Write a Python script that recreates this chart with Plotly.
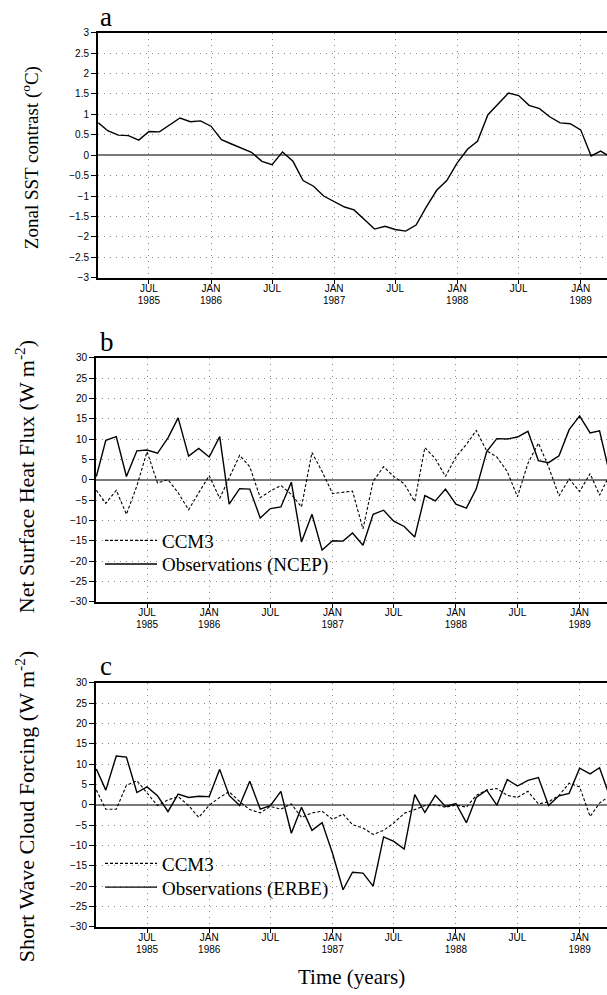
import pandas as pd
import plotly.graph_objects as go

# ---------------- data ----------------
months = pd.date_range("1985-02-01", periods=51, freq="MS")

sst_contrast = [0.79, 0.60, 0.49, 0.48, 0.37, 0.58, 0.57, 0.74, 0.91, 0.82, 0.84, 0.71,
                0.38, 0.28, 0.18, 0.07, -0.15, -0.23, 0.08, -0.15, -0.62, -0.76, -1.00, -1.14,
                -1.27, -1.34, -1.57, -1.81, -1.74, -1.82, -1.86, -1.71, -1.27, -0.86, -0.62, -0.19,
                0.15, 0.34, 0.99, 1.26, 1.52, 1.46, 1.22, 1.14, 0.94, 0.79, 0.77, 0.62,
                -0.02, 0.10, -0.05]

heat_ncep = [0.8, 9.7, 10.6, 0.8, 7.1, 7.3, 6.5, 10.3, 15.2, 5.8, 7.7, 5.6, 10.6,
             -6.0, -2.2, -2.3, -9.4, -7.1, -6.7, -0.6, -15.3, -8.5, -17.3, -15.0, -15.1,
             -13.1, -16.1, -8.5, -7.5, -10.2, -11.5, -14.1, -3.9, -5.2, -2.3, -6.0, -7.0, -2.3,
             6.9, 10.1, 10.0, 10.5, 11.9, 4.7, 4.2, 5.9, 12.3, 15.7, 11.5, 12.0, 1.0]

heat_ccm3 = [-2.6, -5.8, -2.6, -8.5, -1.5, 6.9, -0.8, 0.0, -3.2, -7.4, -3.2, 1.0, -4.6,
             0.4, 6.0, 3.2, -4.4, -2.8, -1.4, -3.6, -6.7, 6.7, 2.0, -3.4, -3.1,
             -2.8, -12.1, -0.4, 3.2, 0.8, -1.0, -5.4, 7.9, 5.2, 0.8, 5.6, 8.7, 12.1,
             7.1, 5.6, 2.0, -4.2, 4.0, 9.0, 3.2, -4.0, 0.2, -2.9, 1.5, -3.8, 1.4]

swcf_erbe = [8.8, 3.6, 12.0, 11.7, 3.0, 4.4, 2.2, -1.7, 2.6, 1.8, 2.1, 2.0, 8.7,
             2.3, -0.2, 5.8, -1.1, -0.2, 3.3, -7.0, -0.6, -6.3, -4.4, -12.0, -20.9,
             -16.6, -16.8, -20.0, -7.9, -9.0, -10.9, 2.5, -1.9, 2.3, -0.4, 0.3, -4.4, 1.8,
             3.6, -0.1, 6.2, 4.6, 6.0, 6.7, -0.2, 2.2, 2.8, 9.0, 7.6, 9.1, 1.8]

swcf_ccm3 = [3.6, -1.1, -1.1, 4.8, 5.9, 3.0, -0.2, 1.2, 2.0, -0.2, -3.1, -0.1, 1.8,
             3.2, 0.8, -1.2, -2.0, -0.4, -1.1, 0.2, -3.1, -2.0, -1.6, -3.6, -2.3,
             -4.9, -5.7, -7.3, -6.3, -4.5, -2.1, -1.2, -0.2, 0.0, -0.6, -0.1, -0.6, 2.3,
             3.6, 4.0, 2.3, 1.8, 3.3, 0.2, 0.7, 2.3, 5.3, 4.4, -2.9, 0.4, 2.3]

tick_dates = ["1985-07-01", "1986-01-01", "1986-07-01", "1987-01-01",
              "1987-07-01", "1988-01-01", "1988-07-01", "1989-01-01"]
tick_months = ["JUL", "JAN", "JUL", "JAN", "JUL", "JAN", "JUL", "JAN"]
tick_years = ["1985", "1986", "", "1987", "", "1988", "", "1989"]

sst_ticks = [3, 2.5, 2, 1.5, 1, 0.5, 0, -0.5, -1, -1.5, -2, -2.5, -3]
flux_ticks = [30, 25, 20, 15, 10, 5, 0, -5, -10, -15, -20, -25, -30]

# ---------------- figure ----------------
W, H = 607, 995
SERIF = "Liberation Serif, Times New Roman, serif"
SANS = "Liberation Sans, Arial, sans-serif"

fig = go.Figure()

solid = dict(color="black", width=1.4)
dotted = dict(color="black", width=1.1, dash="3px,2px")

fig.add_trace(go.Scatter(x=months, y=sst_contrast, mode="lines", line=solid,
                         xaxis="x", yaxis="y", showlegend=False))

fig.add_trace(go.Scatter(x=months, y=heat_ccm3, mode="lines", line=dotted, name="CCM3",
                         xaxis="x2", yaxis="y2", legend="legend"))
fig.add_trace(go.Scatter(x=months, y=heat_ncep, mode="lines", line=solid,
                         name="Observations (NCEP)", xaxis="x2", yaxis="y2", legend="legend2"))

fig.add_trace(go.Scatter(x=months, y=swcf_ccm3, mode="lines", line=dotted, name="CCM3",
                         xaxis="x3", yaxis="y3", legend="legend3"))
fig.add_trace(go.Scatter(x=months, y=swcf_erbe, mode="lines", line=solid,
                         name="Observations (ERBE)", xaxis="x3", yaxis="y3", legend="legend4"))

# empty traces so that the overlaid "year" label axes get created
for xa, ya in [("x4", "y"), ("x5", "y2"), ("x6", "y3")]:
    fig.add_trace(go.Scatter(x=[], y=[], mode="lines", xaxis=xa, yaxis=ya,
                             showlegend=False, hoverinfo="skip"))


def xax(anchor, x0, rng):
    return dict(domain=[x0 / W, 1.0], anchor=anchor, type="date", range=rng,
                tickmode="array", tickvals=tick_dates, ticktext=tick_months,
                showgrid=True, gridcolor="#8a8a8a", griddash="1px,5px", gridwidth=1,
                zeroline=False, showline=True, linecolor="black", linewidth=2,
                mirror=True, ticks="outside", ticklen=4, tickwidth=1, tickcolor="black",
                ticklabelstandoff=-4,
                tickfont=dict(family=SANS, size=10, color="black"), tickangle=0)


def xyear(over, anchor, x0, rng):
    return dict(domain=[x0 / W, 1.0], anchor=anchor, overlaying=over, side="bottom",
                type="date", range=rng, tickmode="array", tickvals=tick_dates,
                ticktext=tick_years, showgrid=False, zeroline=False, showline=False,
                ticks="", ticklabelstandoff=15, tickangle=0,
                tickfont=dict(family=SANS, size=10, color="black"))


def yax(anchor, top, bottom, rng, tv):
    return dict(domain=[1 - bottom / H, 1 - top / H], anchor=anchor, range=rng,
                tickmode="array", tickvals=tv,
                ticktext=[("%g" % v).replace("-", "\u2212") for v in tv],
                showgrid=True, gridcolor="#8a8a8a", griddash="1px,5px", gridwidth=1,
                zeroline=True, zerolinecolor="#7a7a7a", zerolinewidth=2,
                showline=True, linecolor="black", linewidth=2, mirror=False,
                ticks="outside", ticklen=5, tickwidth=1, tickcolor="black",
                tickfont=dict(family=SANS, size=10, color="black"))


def leg(xpx, ypx):
    return dict(x=xpx / W, y=1 - ypx / H, xanchor="left", yanchor="middle",
                bgcolor="rgba(0,0,0,0)", itemwidth=52,
                font=dict(family=SERIF, size=19, color="black"))


rng_a = ["1985-01-31", "1989-03-20"]
rng_bc = ["1985-01-31", "1989-03-23"]

fig.update_layout(
    width=W, height=H,
    margin=dict(l=0, r=0, t=0, b=0),
    paper_bgcolor="white", plot_bgcolor="white",
    xaxis=xax("y", 98, rng_a),
    xaxis2=xax("y2", 96, rng_bc),
    xaxis3=xax("y3", 96, rng_bc),
    xaxis4=xyear("x", "y", 98, rng_a),
    xaxis5=xyear("x2", "y2", 96, rng_bc),
    xaxis6=xyear("x3", "y3", 96, rng_bc),
    yaxis=yax("x", 27, 275, [-3, 3], sst_ticks),
    yaxis2=yax("x2", 356, 603, [-30, 30], flux_ticks),
    yaxis3=yax("x3", 685, 932, [-30, 30], flux_ticks),
    legend=leg(100, 541),
    legend2=leg(100, 565),
    legend3=leg(100, 868),
    legend4=leg(100, 892),
)

ann = []
# y-axis titles
ann.append(dict(text="Zonal SST contrast (<sup>o</sup>C)", x=30 / W, y=1 - 154 / H,
                textangle=-90, font=dict(family=SERIF, size=19, color="black")))
ann.append(dict(text="Net Surface Heat Flux (W m<sup>-2</sup>)", x=25 / W, y=1 - 477 / H,
                textangle=-90, font=dict(family=SERIF, size=22, color="black")))
ann.append(dict(text="Short Wave Cloud Forcing (W m<sup>-2</sup>)", x=25 / W, y=1 - 810 / H,
                textangle=-90, font=dict(family=SERIF, size=22, color="black")))
# panel letters
for letter, base in [("a", 22), ("b", 351), ("c", 679)]:
    ann.append(dict(text=letter, x=98 / W, y=1 - (base + 6) / H, xanchor="left", yanchor="bottom",
                    font=dict(family=SERIF, size=27, color="black")))
# x-axis title
ann.append(dict(text="Time (years)", x=351 / W, y=1 - 983 / H,
                font=dict(family=SERIF, size=21, color="black")))

for a in ann:
    a.update(xref="paper", yref="paper", showarrow=False)
    a.setdefault("xanchor", "center")
    a.setdefault("yanchor", "middle")

fig.update_layout(annotations=ann)

fig.write_html("out.html")
